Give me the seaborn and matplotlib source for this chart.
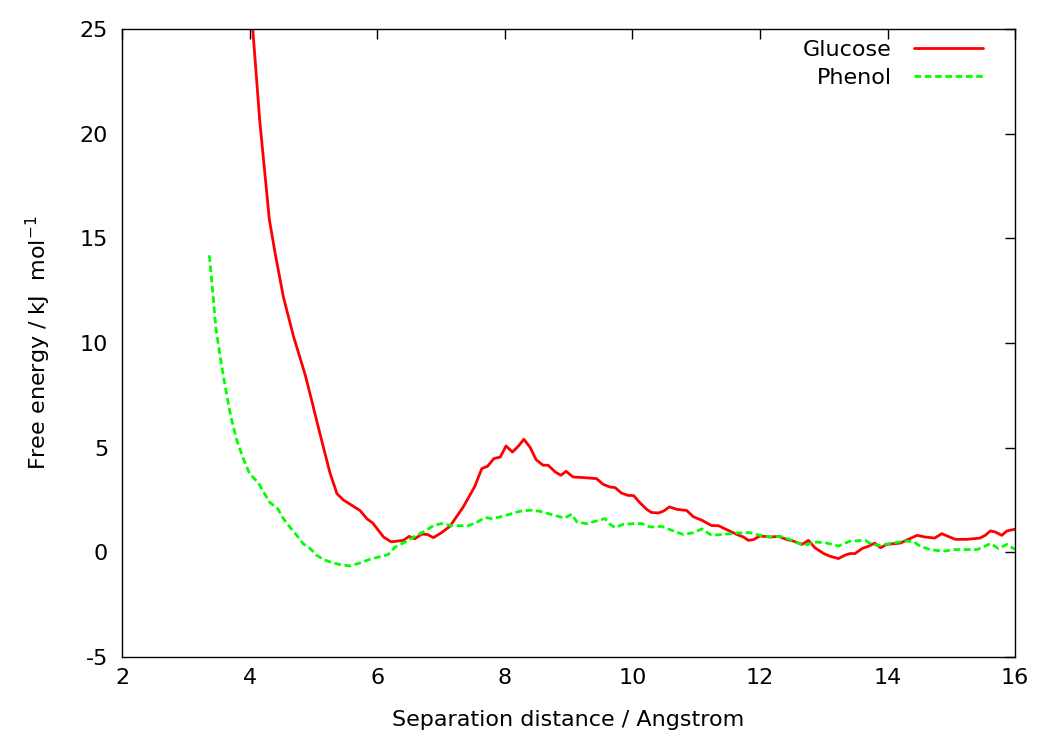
import matplotlib
matplotlib.use("Agg")
import matplotlib.pyplot as plt
import seaborn as sns
import pandas as pd

# values
glucose_x = [4.02, 4.05, 4.16, 4.31, 4.40, 4.53, 4.69, 4.87, 4.97, 5.10,
             5.26, 5.37, 5.47, 5.73, 5.84, 5.93, 6.10, 6.22, 6.41, 6.50,
             6.59, 6.70, 6.79, 6.88, 7.00, 7.14, 7.35, 7.53, 7.64, 7.73,
             7.83, 7.93, 8.02, 8.12, 8.21, 8.30, 8.40, 8.49, 8.60, 8.68,
             8.79, 8.88, 8.96, 9.07, 9.23, 9.44, 9.54, 9.65, 9.73, 9.83,
             9.93, 10.02, 10.12, 10.23, 10.30, 10.41, 10.49, 10.58, 10.70, 10.85,
             10.96, 11.09, 11.24, 11.35, 11.48, 11.64, 11.74, 11.82, 11.90, 12.00,
             12.16, 12.29, 12.42, 12.52, 12.66, 12.76, 12.86, 13.00, 13.10, 13.23,
             13.33, 13.41, 13.49, 13.60, 13.70, 13.80, 13.89, 13.99, 14.20, 14.35,
             14.46, 14.59, 14.74, 14.85, 14.95, 15.06, 15.24, 15.45, 15.53, 15.61,
             15.69, 15.79, 15.87, 15.96, 16.00]
glucose_y = [26.5, 25.0, 20.6, 15.9, 14.3, 12.2, 10.3, 8.5, 7.3, 5.7,
             3.8, 2.8, 2.5, 2.0, 1.6, 1.4, 0.73, 0.5, 0.57, 0.76,
             0.65, 0.87, 0.85, 0.70, 0.92, 1.24, 2.17, 3.15, 4.0, 4.11,
             4.48, 4.55, 5.08, 4.79, 5.06, 5.40, 5.0, 4.43, 4.16, 4.16,
             3.84, 3.68, 3.87, 3.6, 3.57, 3.52, 3.25, 3.12, 3.09, 2.83,
             2.72, 2.71, 2.36, 2.04, 1.9, 1.88, 1.97, 2.17, 2.05, 2.0,
             1.69, 1.53, 1.28, 1.27, 1.08, 0.85, 0.73, 0.57, 0.61, 0.78,
             0.73, 0.76, 0.61, 0.54, 0.38, 0.57, 0.22, -0.06, -0.19, -0.30,
             -0.14, -0.06, -0.06, 0.18, 0.29, 0.44, 0.22, 0.38, 0.44, 0.65,
             0.81, 0.73, 0.68, 0.89, 0.76, 0.62, 0.62, 0.68, 0.81, 1.02,
             0.97, 0.81, 1.02, 1.08, 1.1]

phenol_x = [3.37, 3.42, 3.47, 3.54, 3.61, 3.68, 3.72, 3.80, 3.90, 4.00,
            4.14, 4.22, 4.31, 4.44, 4.53, 4.63, 4.74, 4.84, 4.95, 5.05,
            5.16, 5.29, 5.42, 5.57, 5.73, 5.89, 6.07, 6.17, 6.28, 6.44,
            6.57, 6.72, 6.88, 7.00, 7.14, 7.27, 7.43, 7.56, 7.69, 7.80,
            7.93, 8.08, 8.24, 8.40, 8.55, 8.68, 8.81, 8.94, 9.05, 9.13,
            9.28, 9.44, 9.57, 9.65, 9.73, 9.86, 10.02, 10.15, 10.28, 10.46,
            10.59, 10.80, 10.96, 11.09, 11.24, 11.43, 11.64, 11.84, 12.00, 12.16,
            12.32, 12.47, 12.68, 12.89, 13.05, 13.23, 13.41, 13.65, 13.75, 13.88,
            14.04, 14.25, 14.40, 14.51, 14.67, 14.87, 15.03, 15.24, 15.40, 15.50,
            15.61, 15.74, 15.87, 15.95, 16.00]
phenol_y = [14.19, 12.52, 10.77, 9.33, 8.06, 6.9, 6.31, 5.35, 4.48, 3.76,
            3.31, 2.88, 2.40, 2.09, 1.61, 1.21, 0.81, 0.41, 0.18, -0.14,
            -0.35, -0.49, -0.59, -0.65, -0.51, -0.33, -0.19, -0.11, 0.25, 0.49,
            0.73, 0.97, 1.27, 1.37, 1.29, 1.27, 1.27, 1.43, 1.66, 1.61,
            1.69, 1.82, 1.96, 2.01, 1.96, 1.85, 1.74, 1.64, 1.82, 1.45,
            1.37, 1.50, 1.61, 1.34, 1.18, 1.34, 1.37, 1.37, 1.21, 1.24,
            1.08, 0.85, 0.94, 1.12, 0.81, 0.86, 0.92, 0.94, 0.81, 0.73,
            0.76, 0.61, 0.33, 0.49, 0.44, 0.30, 0.53, 0.57, 0.38, 0.33,
            0.42, 0.53, 0.53, 0.29, 0.13, 0.05, 0.13, 0.13, 0.13, 0.25,
            0.42, 0.18, 0.38, 0.22, 0.15]

x_ticks = [2, 4, 6, 8, 10, 12, 14, 16]
y_ticks = [-5, 0, 5, 10, 15, 20, 25]

sns.set_style("white")
plt.rcParams['font.family'] = ['DejaVu Sans']
plt.rcParams['axes.unicode_minus'] = False
plt.rcParams['text.color'] = 'black'
plt.rcParams['axes.labelcolor'] = 'black'

glucose = pd.DataFrame({'x': glucose_x, 'y': glucose_y})
phenol = pd.DataFrame({'x': phenol_x, 'y': phenol_y})

fig = plt.figure(figsize=(10.38, 7.38), dpi=100)
ax = fig.add_axes([0.1175, 0.1098, 0.8605, 0.8509])

sns.lineplot(data=glucose, x='x', y='y', ax=ax, color='#ff0000', linewidth=2,
             sort=False, estimator=None, label='Glucose')
sns.lineplot(data=phenol, x='x', y='y', ax=ax, color='#00ff00', linewidth=2,
             linestyle=(0, (2.4, 1.3)), sort=False, estimator=None, label='Phenol')

ax.set_xlim(2, 16)
ax.set_ylim(-5, 25)
ax.set_xticks(x_ticks)
ax.set_yticks(y_ticks)
ax.tick_params(direction='in', length=7, width=1, top=True, right=True,
               labelsize=16, colors='black', pad=8)
ax.tick_params(axis='y', pad=10)
for s in ax.spines.values():
    s.set_visible(True)
    s.set_color('black')
    s.set_linewidth(1)

ax.set_xlabel('Separation distance / Angstrom', fontsize=16, labelpad=16)
ax.set_ylabel('Free energy / kJ  mol$^{-1}$', fontsize=16, labelpad=19)

leg = ax.legend(loc='upper right', bbox_to_anchor=(0.974, 0.997),
                frameon=False, markerfirst=False, fontsize=16,
                handlelength=3.1, labelspacing=0.37, borderaxespad=0,
                handletextpad=1.0)

fig.savefig('out.png', dpi=100)
